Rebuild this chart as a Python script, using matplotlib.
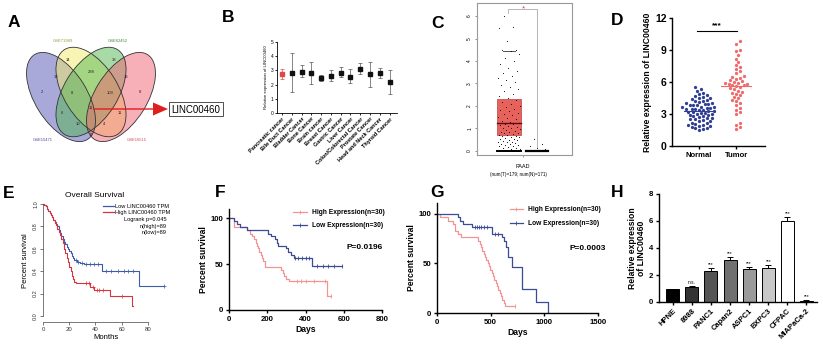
import numpy as np
import matplotlib
matplotlib.use('Agg')
import matplotlib.pyplot as plt
from matplotlib.patches import Ellipse, FancyArrow, Rectangle

plt.rcParams['font.family'] = ['Liberation Sans', 'DejaVu Sans']

# ---------------- data ----------------
venn_names = ['GSE71989', 'GSE62452', 'GSE15471', 'GSE16515']
venn_counts = ['2', '14', '38', '8', '30', '288', '18', '8', '103', '11', '6', '11', '10', '4', '0']
hub_gene = 'LINC00460'

b_cats = ['Pancreatic cancer', 'Bile Duct Cancer', 'Bladder Cancer', 'Bone Cancer', 'Brain cancer',
          'Breast Cancer', 'Gastric Cancer', 'Liver Cancer', 'Colon/Colorectal Cancer',
          'Prostate Cancer', 'Head and Neck Cancer', 'Thyroid Cancer']
b_mean = [2.75, 2.85, 2.9, 2.85, 2.45, 2.6, 2.85, 2.55, 3.1, 2.75, 2.8, 2.2]
b_low = [2.4, 1.45, 2.5, 2.05, 2.25, 2.25, 2.5, 2.1, 2.75, 1.85, 2.45, 1.35]
b_high = [3.1, 4.25, 3.35, 3.6, 2.7, 3.0, 3.25, 3.1, 3.5, 3.6, 3.2, 3.0]

c_tumor = [0, 0, 0, 0, 0, 0, 0, 0, 0, 0, 0, 0, 0, 0, 0, 0, 0, 0, 0, 0,
           0.05, 0.08, 0.1, 0.12, 0.15, 0.18, 0.2, 0.22, 0.25, 0.28, 0.3, 0.33, 0.35, 0.38,
           0.4, 0.42, 0.45, 0.48, 0.5, 0.52, 0.55, 0.58, 0.6, 0.62, 0.65, 0.68, 0.7,
           0.72, 0.75, 0.78, 0.8, 0.83, 0.86, 0.9, 0.93, 0.96, 1.0, 1.03, 1.07, 1.1, 1.14, 1.18, 1.22,
           1.26, 1.3, 1.35, 1.4, 1.46, 1.52, 1.58, 1.64, 1.7, 1.76, 1.82, 1.88, 1.95, 2.02, 2.1,
           2.18, 2.26, 2.35, 2.45, 2.55, 2.65, 2.75, 2.85, 2.95, 3.05, 3.15, 3.25, 3.35, 3.45,
           3.55, 3.7, 3.85, 4.0, 4.15, 4.3, 4.45, 4.5, 4.5, 4.9, 5.45, 5.5, 6.0]
c_normal = [0, 0, 0, 0, 0, 0, 0, 0, 0, 0, 0, 0, 0, 0, 0, 0.05, 0.1, 0.12, 0.2, 0.3, 0.55]
c_q1, c_med, c_q3, c_whisk = 0.71, 1.24, 2.31, 4.46
c_norm_med = 0.02

d_normal = [5.5, 5.3, 5.2, 5.0, 4.9, 4.8, 4.7, 4.6, 4.5, 4.5, 4.4, 4.3, 4.2, 4.2, 4.1, 4.0, 4.0,
            3.9, 3.9, 3.8, 3.8, 3.8, 3.7, 3.7, 3.7, 3.6, 3.6, 3.5, 3.5, 3.5, 3.4, 3.4, 3.3, 3.3,
            3.2, 3.2, 3.1, 3.1, 3.0, 3.0, 2.9, 2.9, 2.8, 2.8, 2.7, 2.6, 2.6, 2.5, 2.5, 2.4, 2.3,
            2.3, 2.2, 2.2, 2.1, 2.0, 2.0, 1.9, 1.9, 1.8, 1.7, 1.7, 1.6, 1.5]
d_tumor = [9.8, 9.6, 9.0, 8.9, 8.5, 8.2, 7.9, 7.6, 7.4, 7.2, 7.0, 6.8, 6.6, 6.5, 6.4, 6.3, 6.2,
           6.1, 6.0, 5.9, 5.9, 5.8, 5.8, 5.7, 5.7, 5.6, 5.5, 5.4, 5.3, 5.2, 5.1, 5.0, 4.9, 4.8,
           4.6, 4.5, 4.3, 4.2, 4.0, 3.8, 3.6, 3.4, 3.2, 3.0, 2.2, 2.0, 1.8, 1.6]

e_low_t = [0, 1, 2, 3, 4, 5, 6, 7, 8, 9, 10, 11, 12, 13, 14, 15, 16, 17, 18, 19, 20, 21, 22, 23,
           24, 26, 28, 31, 45, 73]
e_low_s = [1.0, 0.99, 0.98, 0.96, 0.94, 0.92, 0.90, 0.88, 0.86, 0.84, 0.82, 0.80, 0.77, 0.74,
           0.71, 0.69, 0.66, 0.64, 0.62, 0.60, 0.58, 0.56, 0.54, 0.52, 0.50, 0.485, 0.47, 0.46,
           0.405, 0.27]
e_low_end = 92
e_low_cens = [25, 27, 30, 33, 36, 39, 42, 48, 52, 57, 62, 65, 69, 92]
e_high_t = [0, 1, 2, 3, 4, 5, 6, 7, 8, 9, 10, 11, 12, 13, 14, 15, 16, 17, 18, 19, 20, 21, 22, 23,
            24, 25, 36, 39, 51, 68]
e_high_s = [1.0, 0.99, 0.98, 0.96, 0.94, 0.92, 0.90, 0.88, 0.86, 0.83, 0.81, 0.78, 0.75, 0.72,
            0.69, 0.65, 0.60, 0.56, 0.52, 0.48, 0.44, 0.40, 0.36, 0.33, 0.30, 0.29, 0.26, 0.235,
            0.18, 0.09]
e_high_end = 68.5
e_high_cens = [33, 35, 38, 41, 43, 46, 60]

f_high_t = [0, 28, 95, 110, 120, 130, 140, 145, 150, 158, 165, 172, 180, 190, 270, 280, 290, 300, 315, 510]
f_high_s = [100, 90, 87, 83, 80, 77, 73, 70, 67, 63, 60, 57, 53, 47, 43, 40, 37, 34, 31, 15.5]
f_high_end = 535
f_high_cens = [355, 375, 400, 445, 500, 535]
f_low_t = [0, 25, 40, 60, 95, 205, 222, 240, 250, 258, 298, 310, 325, 340, 435]
f_low_s = [100, 97, 93, 90, 87, 83, 80, 77, 73, 70, 67, 63, 60, 57, 48]
f_low_end = 590
f_low_cens = [345, 360, 380, 400, 420, 460, 490, 520, 550, 590]

g_high_t = [0, 28, 106, 150, 171, 196, 227, 385, 398, 410, 422, 435, 448, 460, 472, 485, 497,
            510, 522, 535, 548, 560, 572, 585, 598, 610, 622, 636]
g_high_s = [100, 97, 93, 90, 83, 80, 77, 73, 70, 67, 63, 60, 57, 53, 50, 47, 43, 40, 37, 33, 30,
            27, 23, 20, 17, 13, 10, 7]
g_high_end = 728
g_high_cens = [728]
g_low_t = [0, 197, 215, 240, 330, 510, 610, 625, 640, 660, 698, 791, 925, 1037]
g_low_s = [100, 97, 93, 90, 87, 80, 77, 73, 67, 57, 46.5, 24, 11.5, 0]
g_low_end = 1037
g_low_cens = [350, 370, 390, 410, 440, 470, 540, 570]

h_cats = ['HPNE', '8988', 'PANC1', 'Capan2', 'ASPC1', 'BXPC3', 'CFPAC', 'MIAPaCa-2']
h_vals = [1.0, 1.1, 2.3, 3.1, 2.45, 2.5, 6.0, 0.08]
h_err = [0.0, 0.06, 0.2, 0.22, 0.15, 0.22, 0.3, 0.05]
h_sig = ['', 'n.s.', '***', '***', '***', '***', '***', '***']
h_colors = ['#000000', '#333333', '#555555', '#707070', '#9a9a9a', '#c8c8c8', '#ffffff', '#ffffff']

# ---------------- layout ----------------
W, H = 823, 347
fig = plt.figure(figsize=(W / 100, H / 100), dpi=100)


def add_ax(x0, y0, x1, y1):
    return fig.add_axes([x0 / W, 1 - y1 / H, (x1 - x0) / W, (y1 - y0) / H])


def gp_style(ax, lw=1.0):
    for s in ['top', 'right']:
        ax.spines[s].set_visible(False)
    for s in ['left', 'bottom']:
        ax.spines[s].set_linewidth(lw)
    ax.tick_params(width=lw, length=2.5, pad=1.5)


def step_y(t, s, x):
    idx = np.searchsorted(np.asarray(t), np.asarray(x), side='right') - 1
    return np.asarray(s)[idx]


# overlay in pixel coordinates (y down)
ov = fig.add_axes([0, 0, 1, 1], zorder=10)
ov.set_xlim(0, W)
ov.set_ylim(H, 0)
ov.axis('off')
ov.patch.set_visible(False)

# ---- A: Venn ----
ell = [((61, 97), 50, 26, 58, '#5454b4'),
       ((91, 92), 50, 27, 58, '#f2ec6a'),
       ((91, 92), 50, 27, 122, '#52b652'),
       ((121, 97), 50, 26, 122, '#f06272')]
for xy, a, b, ang, col in ell:
    ov.add_patch(Ellipse(xy, 2 * a, 2 * b, angle=ang, facecolor=col, alpha=0.5,
                         edgecolor='none'))
for xy, a, b, ang, col in ell:
    ov.add_patch(Ellipse(xy, 2 * a, 2 * b, angle=ang, facecolor='none',
                         edgecolor='#333333', lw=0.6))

venn_pos = [(42, 92), (68, 60), (114, 60), (140, 92), (56, 77), (91, 72), (126, 77), (72, 93),
            (110, 93), (91, 108), (62, 113), (120, 113), (78, 124), (104, 124), (91, 135)]
for (px, py), c in zip(venn_pos, venn_counts):
    ov.text(px, py, c, fontsize=3, ha='center', va='center', color='#222222')
for (px, py), name, col in zip([(63, 41), (118, 41), (43, 140), (137, 140)], venn_names,
                               ['#9a9a3a', '#3a8a3a', '#4a4aa0', '#d04a5a']):
    ov.text(px, py, name, fontsize=3, ha='center', va='center', color=col)
ov.add_patch(FancyArrow(93, 109, 75, 0, width=1.4, head_width=13, head_length=15,
                        length_includes_head=True, color='#e01e1e', lw=0))
ov.add_patch(Rectangle((169, 102), 54, 14, facecolor='white', edgecolor='#333333', lw=0.6))
ov.text(196, 109.5, hub_gene, fontsize=7, ha='center', va='center')

# ---- B ----
axB = add_ax(277, 42, 397, 113)
xB = np.arange(len(b_cats))
for i in range(len(b_cats)):
    col = '#e04848' if i == 0 else '#111111'
    ecol = '#e04848' if i == 0 else '#555555'
    axB.errorbar(xB[i], b_mean[i], yerr=[[b_mean[i] - b_low[i]], [b_high[i] - b_mean[i]]],
                 fmt='s', ms=2.2, color=col, ecolor=ecol, elinewidth=0.5, capsize=1.5,
                 capthick=0.5)
axB.set_xlim(-0.51, 11.76)
axB.set_ylim(0, 5)
gp_style(axB, 0.6)
axB.tick_params(length=1.5, pad=1)
axB.set_yticks(range(6))
axB.set_yticklabels([str(v) for v in range(6)], fontsize=3.5)
axB.set_xticks(xB)
axB.set_xticklabels(b_cats, rotation=45, ha='right', rotation_mode='anchor', fontsize=4,
                    fontweight='bold')
axB.set_ylabel('Relative expression of LINC00460', fontsize=3.1, labelpad=2)

# ---- C ----
axC = add_ax(477, 3, 572, 155)
axC.set_xlim(-1.143, 2.25)
axC.set_ylim(-0.18, 6.58)
for s in axC.spines.values():
    s.set_color('#999999')
    s.set_linewidth(0.8)
axC.add_patch(Rectangle((-0.43, c_q1), 0.86, c_q3 - c_q1, facecolor='#e8625c',
                        edgecolor='#b84040', lw=0.5, zorder=1))
axC.plot([-0.43, 0.43], [c_med, c_med], color='#5a1010', lw=1.0, zorder=2)
axC.plot([-0.23, 0.23], [c_whisk, c_whisk], color='#333333', lw=0.6, zorder=2)
axC.plot([-0.43, 0.43], [0, 0], color='black', lw=1.4, zorder=2)
axC.plot([0.61, 1.39], [c_norm_med, c_norm_med], color='black', lw=1.6, zorder=2)
jt = ((np.arange(len(c_tumor)) * 0.618034) % 1 - 0.5) * 0.8
axC.scatter(jt, c_tumor, s=0.6, color='black', lw=0, zorder=3)
jn = 1 + ((np.arange(len(c_normal)) * 0.618034) % 1 - 0.5) * 0.7
axC.scatter(jn, c_normal, s=0.6, color='black', lw=0, zorder=3)
axC.plot([-0.036, -0.036, 1.0, 1.0], [6.13, 6.31, 6.31, 0.18], color='#999999', lw=0.5)
axC.text(0.5, 6.31, '*', color='#e04040', fontsize=6, ha='center', va='center')
axC.set_yticks(range(7))
axC.set_yticklabels([str(v) for v in range(7)], fontsize=3.5, rotation=90, va='center')
axC.set_xticks([0.5])
axC.set_xticklabels([''])
axC.tick_params(length=1.5, pad=2, width=0.5, color='#666666')
ov.text(523, 166, 'PAAD', fontsize=4, ha='center', va='center')
ov.text(519, 174, '(num(T)=179; num(N)=171)', fontsize=3.3, ha='center', va='center')

# ---- D ----
axD = add_ax(672, 18, 765, 146)
axD.set_xlim(-0.73, 1.78)
axD.set_ylim(0, 12)
gp_style(axD, 1.0)


def swarm(vals, pxx, pxy, d):
    vals = np.asarray(vals, float)
    order = np.argsort(vals)
    placed = []
    offs = np.zeros(len(vals))
    step = d * 0.55
    cands = [0.0]
    for j in range(1, 60):
        cands += [j * step, -j * step]
    for i in order:
        y = vals[i] * pxy
        for c in cands:
            ok = True
            for (px, py) in placed:
                if abs(py - y) < d and (px - c) ** 2 + (py - y) ** 2 < d * d * 0.9:
                    ok = False
                    break
            if ok:
                placed.append((c, y))
                offs[i] = c / pxx
                break
    return offs


pxx, pxy = 37.0, 10.7
on = swarm(d_normal, pxx, pxy, 3.4)
ot = swarm(d_tumor, pxx, pxy, 3.4)
axD.scatter(0 + on, d_normal, s=5.5, color='#2e3f94', lw=0, zorder=3)
axD.scatter(1 + ot, d_tumor, s=5.5, color='#f06a6a', lw=0, zorder=3)
axD.plot([-0.4, 0.4], [np.mean(d_normal)] * 2, color='#2e3f94', lw=0.8, zorder=4)
axD.plot([0.6, 1.4], [np.mean(d_tumor)] * 2, color='#f06a6a', lw=0.8, zorder=4)
axD.plot([-0.05, 1.03], [10.8, 10.8], color='black', lw=0.8)
axD.text(0.49, 10.9, '***', fontsize=6, fontweight='bold', ha='center', va='bottom')
axD.set_yticks([0, 3, 6, 9, 12])
axD.set_yticklabels(['0', '3', '6', '9', '12'], fontsize=7.5, fontweight='bold')
axD.set_xticks([0, 1])
axD.set_xticklabels(['Normal', 'Tumor'], fontsize=5.5, fontweight='bold')
axD.set_ylabel('Relative expression of LINC00460', fontsize=6.2, fontweight='bold', labelpad=2)

# ---- E ----
axE = add_ax(43, 200, 168, 322)
axE.set_xlim(0, 95.4)
axE.set_ylim(-0.054, 1.036)
for s in ['top', 'right']:
    axE.spines[s].set_visible(False)
axE.spines['left'].set_bounds(0, 1)
axE.spines['bottom'].set_bounds(0, 80)
for s in ['left', 'bottom']:
    axE.spines[s].set_linewidth(0.5)
    axE.spines[s].set_color('#444444')
blue_e, red_e = '#3c5ca8', '#d8343e'
axE.step(e_low_t + [e_low_end], e_low_s + [e_low_s[-1]], where='post', color=blue_e, lw=0.8)
axE.step(e_high_t + [e_high_end], e_high_s + [e_high_s[-1]], where='post', color=red_e, lw=0.8)
axE.plot(e_low_cens, step_y(e_low_t, e_low_s, e_low_cens), '+', color=blue_e, ms=2.5, mew=0.5)
axE.plot(e_high_cens, step_y(e_high_t, e_high_s, e_high_cens), '+', color=red_e, ms=2.5, mew=0.5)
axE.set_yticks([0, 0.2, 0.4, 0.6, 0.8, 1.0])
axE.set_yticklabels(['0.0', '0.2', '0.4', '0.6', '0.8', '1.0'], fontsize=4, rotation=90,
                    va='center', color='#333333')
axE.set_xticks([0, 20, 40, 60, 80])
axE.set_xticklabels(['0', '20', '40', '60', '80'], fontsize=4.3, color='#333333')
axE.tick_params(length=2, width=0.5, pad=1.5, color='#444444')
axE.set_ylabel('Percent survival', fontsize=5.5, labelpad=3)
axE.set_xlabel('Months', fontsize=5.5, labelpad=1.5)
ov.text(95, 195, 'Overall Survival', fontsize=6, ha='center', va='center')
ov.plot([103, 114], [206, 206], color=blue_e, lw=0.9)
ov.plot([103, 114], [212, 212], color=red_e, lw=0.9)
ov.text(115, 206, 'Low LINC00460 TPM', fontsize=4.1, ha='left', va='center')
ov.text(115, 212, 'High LINC00460 TPM', fontsize=4.1, ha='left', va='center')
ov.text(167, 219, 'Logrank p=0.045', fontsize=4.1, ha='right', va='center')
ov.text(167, 226, 'n(high)=89', fontsize=4.1, ha='right', va='center')
ov.text(167, 232, 'n(low)=89', fontsize=4.1, ha='right', va='center')

# ---- F / G ----
pink, navy = '#f29494', '#3d4a94'


def km_gp(ax, ht, hs, hend, hc, lt, ls, lend, lc):
    ax.step(ht + [hend], hs + [hs[-1]], where='post', color=pink, lw=0.9)
    ax.step(lt + [lend], ls + [ls[-1]], where='post', color=navy, lw=0.9)
    ax.plot(hc, step_y(ht, hs, hc), '|', color=pink, ms=2.5, mew=0.6)
    ax.plot(lc, step_y(lt, ls, lc), '|', color=navy, ms=2.5, mew=0.6)


axF = add_ax(229, 209, 382, 310)
axF.set_xlim(0, 800)
axF.set_ylim(0, 109.8)
gp_style(axF, 1.0)
km_gp(axF, f_high_t, f_high_s, f_high_end, f_high_cens, f_low_t, f_low_s, f_low_end, f_low_cens)
axF.set_yticks([0, 50, 100])
axF.set_yticklabels(['0', '50', '100'], fontsize=5.6, fontweight='bold')
axF.set_xticks([0, 200, 400, 600, 800])
axF.set_xticklabels(['0', '200', '400', '600', '800'], fontsize=5.6, fontweight='bold')
axF.set_ylabel('Percent survival', fontsize=6.2, fontweight='bold', labelpad=2)
axF.set_xlabel('Days', fontsize=6.2, fontweight='bold', labelpad=2)
for yy, col, lab in [(212, pink, 'High Expression(n=30)'), (225, navy, 'Low Expression(n=30)')]:
    ov.plot([293, 307], [yy, yy], color=col, lw=0.9)
    ov.plot([300], [yy], '|', color=col, ms=2.5, mew=0.6)
    ov.text(312, yy, lab, fontsize=4.8, fontweight='bold', ha='left', va='center')
ov.text(347, 247, 'P=0.0196', fontsize=6, fontweight='bold', ha='left', va='center')

axG = add_ax(437, 203, 598, 313)
axG.set_xlim(0, 1500)
axG.set_ylim(0, 111)
gp_style(axG, 1.0)
km_gp(axG, g_high_t, g_high_s, g_high_end, g_high_cens, g_low_t, g_low_s, g_low_end, g_low_cens)
axG.set_yticks([0, 50, 100])
axG.set_yticklabels(['0', '50', '100'], fontsize=5.6, fontweight='bold')
axG.set_xticks([0, 500, 1000, 1500])
axG.set_xticklabels(['0', '500', '1000', '1500'], fontsize=5.6, fontweight='bold')
axG.set_ylabel('Percent survival', fontsize=6.2, fontweight='bold', labelpad=2)
axG.set_xlabel('Days', fontsize=6.2, fontweight='bold', labelpad=2)
for yy, col, lab in [(209, pink, 'High Expression(n=30)'), (223, navy, 'Low Expression(n=30)')]:
    ov.plot([510, 523], [yy, yy], color=col, lw=0.9)
    ov.plot([516.5], [yy], '|', color=col, ms=2.5, mew=0.6)
    ov.text(528, yy, lab, fontsize=4.8, fontweight='bold', ha='left', va='center')
ov.text(570, 248, 'P=0.0003', fontsize=6, fontweight='bold', ha='left', va='center')

# ---- H ----
axH = add_ax(659, 194, 817, 302)
axH.set_xlim(-0.72, 7.55)
axH.set_ylim(0, 8)
gp_style(axH, 1.0)
xH = np.arange(len(h_cats))
axH.bar(xH, h_vals, width=0.68, color=h_colors, edgecolor='black', lw=0.7, zorder=2)
axH.errorbar(xH, h_vals, yerr=[np.zeros(len(h_vals)), h_err], fmt='none', ecolor='black',
             elinewidth=0.7, capsize=2, capthick=0.7, zorder=3)
for x, v, e, s in zip(xH, h_vals, h_err, h_sig):
    if s:
        axH.text(x, v + e + 0.08, s, fontsize=3.5, ha='center', va='bottom')
axH.set_yticks([0, 2, 4, 6, 8])
axH.set_yticklabels(['0', '2', '4', '6', '8'], fontsize=5.6, fontweight='bold')
axH.set_xticks(xH)
axH.set_xticklabels(h_cats, rotation=45, ha='right', rotation_mode='anchor', fontsize=5.5,
                    fontweight='bold')
axH.set_ylabel('Relative expression\nof LINC00460', fontsize=6.2, fontweight='bold',
               labelpad=2, linespacing=1.0)

# ---- panel letters ----
for lab, (px, py) in zip('ABCDEFGH', [(14, 22), (228, 17), (438, 23), (617, 20), (9, 193),
                                      (220, 192), (437, 192), (617, 192)]):
    ov.text(px, py, lab, fontsize=12.5, fontweight='bold', ha='center', va='center')

fig.savefig('out.png', dpi=100)
